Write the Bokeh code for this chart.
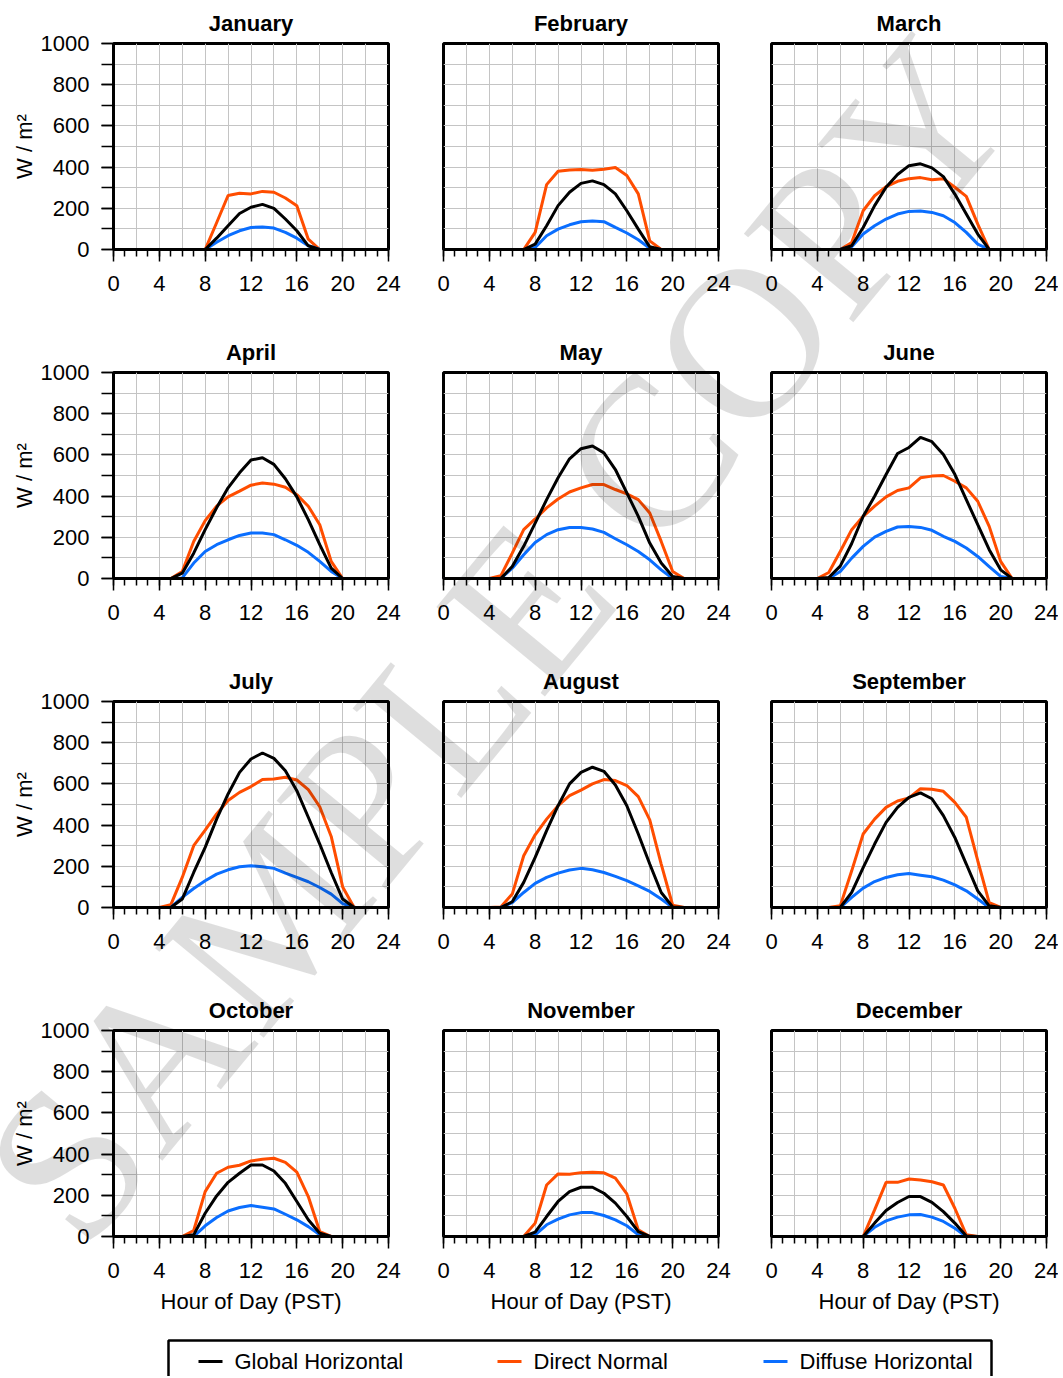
from bokeh.plotting import figure
from bokeh.layouts import column, row
from bokeh.models import Range1d, FixedTicker, Div
from bokeh.embed import file_html
from bokeh.resources import INLINE
from bokeh.core.properties import value

# ---------------- data (hour of day 0..24, W/m2) ----------------
hours = list(range(25))
x_tick_values = [0, 4, 8, 12, 16, 20, 24]
y_tick_values = [0, 200, 400, 600, 800, 1000]

months = ["January", "February", "March", "April", "May", "June",
          "July", "August", "September", "October", "November", "December"]

jan_ghi = [0, 0, 0, 0, 0, 0, 0, 0, 0, 55, 115, 175, 205, 219, 200, 148, 91, 18, 0, 0, 0, 0, 0, 0, 0]
jan_dni = [0, 0, 0, 0, 0, 0, 0, 0, 0, 130, 262, 273, 270, 282, 278, 250, 212, 50, 0, 0, 0, 0, 0, 0, 0]
jan_dhi = [0, 0, 0, 0, 0, 0, 0, 0, 0, 35, 67, 91, 107, 109, 104, 83, 55, 18, 0, 0, 0, 0, 0, 0, 0]

feb_ghi = [0, 0, 0, 0, 0, 0, 0, 0, 26, 115, 213, 278, 321, 333, 315, 270, 188, 99, 13, 0, 0, 0, 0, 0, 0]
feb_dni = [0, 0, 0, 0, 0, 0, 0, 0, 83, 315, 380, 386, 388, 385, 390, 398, 359, 270, 42, 0, 0, 0, 0, 0, 0]
feb_dhi = [0, 0, 0, 0, 0, 0, 0, 0, 10, 67, 99, 120, 135, 138, 135, 107, 80, 47, 6, 0, 0, 0, 0, 0, 0]

mar_ghi = [0, 0, 0, 0, 0, 0, 0, 18, 107, 213, 302, 364, 407, 416, 396, 354, 269, 172, 75, 0, 0, 0, 0, 0, 0]
mar_dni = [0, 0, 0, 0, 0, 0, 0, 34, 188, 261, 305, 331, 344, 349, 339, 344, 302, 258, 123, 0, 0, 0, 0, 0, 0]
mar_dhi = [0, 0, 0, 0, 0, 0, 0, 13, 75, 115, 148, 172, 185, 187, 180, 164, 131, 83, 26, 0, 0, 0, 0, 0, 0]

apr_ghi = [0, 0, 0, 0, 0, 0, 26, 123, 237, 343, 440, 513, 575, 586, 554, 484, 396, 286, 164, 50, 0, 0, 0, 0, 0]
apr_dni = [0, 0, 0, 0, 0, 0, 34, 180, 281, 351, 396, 424, 453, 464, 458, 443, 407, 351, 261, 83, 0, 0, 0, 0, 0]
apr_dhi = [0, 0, 0, 0, 0, 0, 3, 75, 131, 164, 188, 209, 221, 221, 213, 188, 161, 127, 83, 34, 0, 0, 0, 0, 0]

may_ghi = [0, 0, 0, 0, 0, 0, 58, 156, 269, 383, 489, 581, 630, 643, 610, 529, 416, 302, 172, 75, 10, 0, 0, 0, 0]
may_dni = [0, 0, 0, 0, 0, 13, 123, 237, 289, 343, 386, 420, 440, 456, 456, 432, 411, 383, 318, 180, 34, 0, 0, 0, 0]
may_dhi = [0, 0, 0, 0, 0, 0, 50, 115, 175, 213, 237, 248, 248, 240, 224, 193, 164, 131, 91, 42, 0, 0, 0, 0, 0]

jun_ghi = [0, 0, 0, 0, 0, 5, 60, 170, 302, 399, 505, 607, 636, 685, 664, 602, 506, 383, 261, 140, 42, 0, 0, 0, 0]
jun_dni = [0, 0, 0, 0, 0, 29, 131, 237, 302, 351, 396, 427, 440, 489, 497, 500, 472, 440, 375, 253, 83, 0, 0, 0, 0]
jun_dhi = [0, 0, 0, 0, 0, 0, 34, 99, 156, 201, 229, 250, 253, 248, 234, 205, 180, 148, 107, 58, 10, 0, 0, 0, 0]

jul_ghi = [0, 0, 0, 0, 0, 0, 41, 170, 292, 429, 551, 656, 721, 750, 724, 664, 567, 438, 308, 170, 41, 0, 0, 0, 0]
jul_dni = [0, 0, 0, 0, 0, 13, 146, 300, 376, 454, 519, 559, 587, 621, 624, 632, 619, 572, 489, 345, 100, 0, 0, 0, 0]
jul_dhi = [0, 0, 0, 0, 0, 0, 49, 92, 130, 162, 183, 198, 203, 198, 190, 167, 146, 125, 97, 65, 19, 0, 0, 0, 0]

aug_ghi = [0, 0, 0, 0, 0, 0, 28, 122, 243, 373, 494, 600, 656, 681, 661, 595, 494, 357, 211, 73, 3, 0, 0, 0, 0]
aug_dni = [0, 0, 0, 0, 0, 3, 65, 251, 353, 429, 494, 543, 570, 600, 621, 616, 592, 538, 425, 211, 11, 0, 0, 0, 0]
aug_dhi = [0, 0, 0, 0, 0, 0, 24, 73, 117, 146, 167, 182, 190, 183, 170, 151, 130, 105, 78, 41, 0, 0, 0, 0, 0]

sep_ghi = [0, 0, 0, 0, 0, 0, 0, 73, 194, 308, 413, 486, 535, 556, 528, 446, 340, 211, 81, 8, 0, 0, 0, 0, 0]
sep_dni = [0, 0, 0, 0, 0, 0, 8, 178, 357, 429, 486, 517, 532, 577, 574, 564, 510, 438, 227, 24, 0, 0, 0, 0, 0]
sep_dhi = [0, 0, 0, 0, 0, 0, 0, 49, 94, 126, 146, 159, 165, 157, 149, 133, 110, 81, 41, 0, 0, 0, 0, 0, 0]

oct_ghi = [0, 0, 0, 0, 0, 0, 0, 8, 113, 197, 263, 307, 347, 347, 318, 258, 170, 81, 16, 0, 0, 0, 0, 0, 0]
oct_dni = [0, 0, 0, 0, 0, 0, 0, 29, 218, 307, 336, 346, 367, 375, 380, 360, 312, 194, 24, 0, 0, 0, 0, 0, 0]
oct_dhi = [0, 0, 0, 0, 0, 0, 0, 0, 52, 92, 124, 141, 150, 142, 134, 108, 81, 48, 8, 0, 0, 0, 0, 0, 0]

nov_ghi = [0, 0, 0, 0, 0, 0, 0, 0, 21, 97, 170, 218, 239, 239, 210, 162, 97, 24, 0, 0, 0, 0, 0, 0, 0]
nov_dni = [0, 0, 0, 0, 0, 0, 0, 0, 65, 250, 304, 302, 310, 312, 309, 283, 207, 32, 0, 0, 0, 0, 0, 0, 0]
nov_dhi = [0, 0, 0, 0, 0, 0, 0, 0, 8, 57, 84, 105, 116, 116, 102, 81, 52, 8, 0, 0, 0, 0, 0, 0, 0]

dec_ghi = [0, 0, 0, 0, 0, 0, 0, 0, 0, 65, 126, 165, 194, 194, 166, 121, 65, 3, 0, 0, 0, 0, 0, 0, 0]
dec_dni = [0, 0, 0, 0, 0, 0, 0, 0, 0, 129, 263, 263, 279, 274, 266, 250, 137, 8, 0, 0, 0, 0, 0, 0, 0]
dec_dhi = [0, 0, 0, 0, 0, 0, 0, 0, 0, 45, 76, 94, 105, 107, 94, 73, 40, 0, 0, 0, 0, 0, 0, 0, 0]

ghi_series = [jan_ghi, feb_ghi, mar_ghi, apr_ghi, may_ghi, jun_ghi,
              jul_ghi, aug_ghi, sep_ghi, oct_ghi, nov_ghi, dec_ghi]
dni_series = [jan_dni, feb_dni, mar_dni, apr_dni, may_dni, jun_dni,
              jul_dni, aug_dni, sep_dni, oct_dni, nov_dni, dec_dni]
dhi_series = [jan_dhi, feb_dhi, mar_dhi, apr_dhi, may_dhi, jun_dhi,
              jul_dhi, aug_dhi, sep_dhi, oct_dhi, nov_dhi, dec_dhi]

legend_labels = ["Global Horizontal", "Direct Normal", "Diffuse Horizontal"]
watermark_text = "SAMPLE COPY"

# ---------------- style ----------------
FONT = "Liberation Sans"
C_GHI = "#000000"
C_DNI = "#ff4d00"
C_DHI = "#0a6eff"
C_GRID = "#c4c4c4"
Y_MINOR = list(range(0, 1001, 100))


def make_panel(i):
    r, c = divmod(i, 3)
    left = 113 if c == 0 else 25
    right = [30, 28, 12][c]
    p = figure(frame_width=275, frame_height=206,
               min_border_left=left, min_border_right=right,
               min_border_top=43, min_border_bottom=80,
               x_range=Range1d(0, 24), y_range=Range1d(0, 1000),
               output_backend="svg", toolbar_location=None,
               title=months[i])
    p.background_fill_color = "white"
    p.border_fill_color = "white"
    p.outline_line_color = "black"
    p.outline_line_width = 3

    p.title.align = "center"
    p.title.text_font = FONT
    p.title.text_font_size = "22px"
    p.title.text_font_style = "bold"
    p.title.text_color = "black"
    p.title.standoff = 16

    # grid
    p.xgrid.ticker = FixedTicker(ticks=list(range(0, 25, 2)))
    p.ygrid.ticker = FixedTicker(ticks=Y_MINOR)
    for g in (p.xgrid, p.ygrid):
        g.grid_line_color = C_GRID
        g.grid_line_width = 1

    # axes
    p.xaxis.ticker = FixedTicker(ticks=x_tick_values, minor_ticks=hours)
    p.yaxis.ticker = FixedTicker(ticks=y_tick_values, minor_ticks=Y_MINOR)
    for ax in (p.xaxis, p.yaxis):
        ax.axis_line_width = 3
        ax.axis_line_color = "black"
        ax.major_tick_in = 0
        ax.minor_tick_in = 0
        ax.major_tick_out = 12
        ax.minor_tick_out = 7
        ax.major_tick_line_width = 1.5
        ax.minor_tick_line_width = 1.5
        ax.major_tick_line_color = "black"
        ax.minor_tick_line_color = "black"
        ax.major_label_text_font = FONT
        ax.major_label_text_font_size = "22px"
        ax.major_label_text_color = "black"
        ax.axis_label_text_font = FONT
        ax.axis_label_text_font_style = "normal"
        ax.axis_label_text_color = "black"
    p.xaxis.major_label_standoff = 14
    p.yaxis.major_label_standoff = 12
    p.yaxis.minor_tick_out = 12

    if c == 0:
        p.yaxis.axis_label = "W / m²"
        p.yaxis.axis_label_text_font_size = "22px"
        p.yaxis.axis_label_standoff = 1
    else:
        p.yaxis.visible = False

    if r == 3:
        p.xaxis.axis_label = "Hour of Day (PST)"
        p.xaxis.axis_label_text_font_size = "22px"
        p.xaxis.axis_label_standoff = 8

    p.line(hours, dni_series[i], line_color=C_DNI, line_width=3)
    p.line(hours, dhi_series[i], line_color=C_DHI, line_width=3)
    p.line(hours, ghi_series[i], line_color=C_GHI, line_width=3)
    return p


panels = [make_panel(i) for i in range(12)]

# ---------------- legend strip ----------------
LW, LH = 1058, 60
leg = figure(width=LW, height=LH, x_range=Range1d(0, LW), y_range=Range1d(0, LH),
             min_border=0, output_backend="svg", toolbar_location=None,
             x_axis_type=None, y_axis_type=None)
leg.grid.visible = False
leg.outline_line_color = None
leg.background_fill_color = "white"
leg.border_fill_color = "white"
leg.line([168, 168, 991, 991], [-10, 36, 36, -10], line_color="black", line_width=2.5)
sample_x0 = [198, 497, 763]
leg.segment(x0=sample_x0, y0=[15, 15, 15], x1=[x + 24 for x in sample_x0], y1=[15, 15, 15],
            line_color=[C_GHI, C_DNI, C_DHI], line_width=3)
leg.text(x=[x + 36 for x in sample_x0], y=[15, 15, 15], text=legend_labels,
         text_font=value(FONT), text_font_size="22px", text_color="black",
         text_baseline="middle", text_align="left")

# ---------------- "SAMPLE COPY" stamp (semi-transparent overlay) ----------------
stamp = Div(
    text=('<div style="white-space:nowrap;font-family:\'Liberation Serif\',serif;'
          'font-size:215px;line-height:1;color:rgba(0,0,0,0.13);pointer-events:none;'
          'transform-origin:0 0;transform:translate(-59px,-241px) rotate(-50.5deg);">'
          + watermark_text + '</div>'),
    width=LW, height=1,
    styles={"overflow": "visible", "pointer-events": "none"},
    stylesheets=[":host{overflow:visible !important;} .bk-clearfix{overflow:visible !important;}"],
)

layout = column(
    row(panels[0], panels[1], panels[2]),
    row(panels[3], panels[4], panels[5]),
    row(panels[6], panels[7], panels[8]),
    row(panels[9], panels[10], panels[11]),
    leg,
    stamp,
)

open("out.html", "w").write(file_html(layout, INLINE, title="Monthly irradiance"))
